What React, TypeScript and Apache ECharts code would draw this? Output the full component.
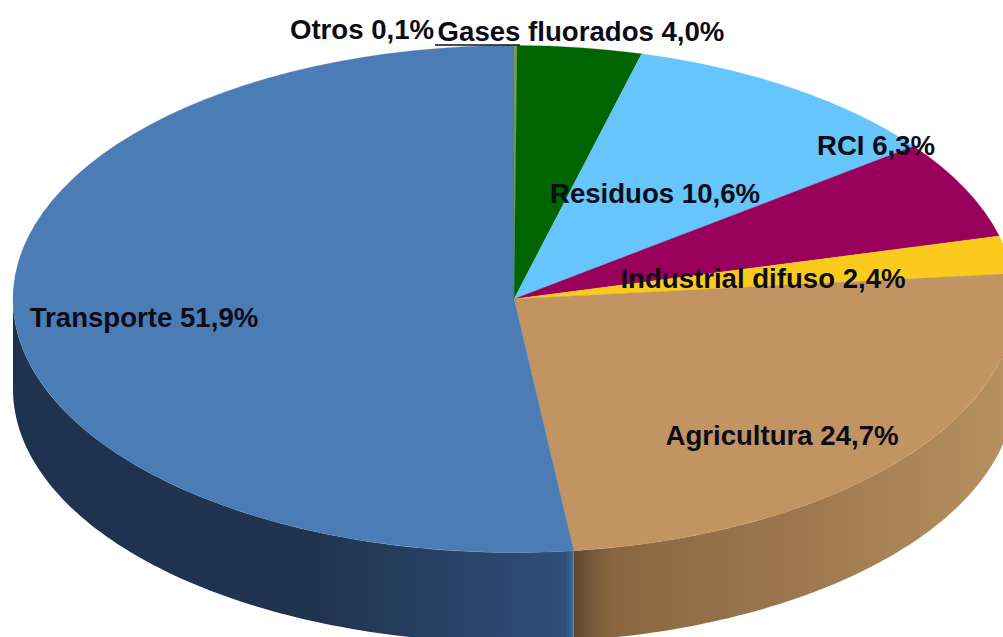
import React, { useEffect, useRef } from "react";
import * as echarts from "echarts";

const categories = ["Otros", "Gases fluorados", "Residuos", "RCI", "Industrial difuso", "Agricultura", "Transporte"];
const shares = [0.1, 4.0, 10.6, 6.3, 2.4, 24.7, 51.9];
const faceColors = ["#7ba03c", "#006400", "#66c5fb", "#99005c", "#facb1c", "#c19461", "#4c7cb6"];

const WIDTH = 1003;
const HEIGHT = 637;
const CX = 514;
const CY = 299;
const RX = 501;
const RY = 253.5;
const DEPTH = 90;
const FONT = 27.6;

// label centres in pixels, by category index
const labelCentres: [number, number][] = [
  [362, 29], [581, 31], [655, 193], [876, 145], [763, 278], [782, 435], [144, 317],
];

const wallStops: Record<number, [number, string][]> = {
  5: [[0, "#5f4629"], [0.04, "#77583a"], [0.09, "#8a6640"], [0.5, "#9c774e"], [1, "#b8925f"]],
  6: [[0, "#1f3350"], [0.55, "#203450"], [0.9, "#2b4a70"], [0.985, "#2d4e76"], [1, "#3a6ba5"]],
};

const total = shares.reduce((a, b) => a + b, 0);
const startDeg = (i: number) => (shares.slice(0, i).reduce((a, b) => a + b, 0) / total) * 360;
const endDeg = (i: number) => startDeg(i + 1);
const rad = (d: number) => (d * Math.PI) / 180;
const rim = (deg: number, dy: number): [number, number] => [
  CX + RX * Math.sin(rad(deg)),
  CY - RY * Math.cos(rad(deg)) + dy,
];

const renderWall = (params: any, api: any) => {
  const i = params.dataIndex;
  api.value(0);
  const from = Math.max(startDeg(i), 90);
  const to = Math.min(endDeg(i), 270);
  if (to <= from) return { type: "group", children: [] };
  const top: [number, number][] = [];
  const bottom: [number, number][] = [];
  const steps = 90;
  for (let s = 0; s <= steps; s++) {
    const d = from + ((to - from) * s) / steps;
    top.push(rim(d, 0));
    bottom.push(rim(d, DEPTH));
  }
  const stops = (wallStops[i] || [[0, faceColors[i]], [1, faceColors[i]]]).map(([offset, color]) => ({ offset, color }));
  return {
    type: "polygon",
    shape: { points: [...top, ...bottom.reverse()] },
    style: { fill: new echarts.graphic.LinearGradient(0, 0, 1, 0, stops) },
  };
};

const renderFace = (params: any, api: any) => {
  const i = params.dataIndex;
  api.value(0);
  return {
    type: "sector",
    x: CX,
    y: CY,
    scaleY: RY / RX,
    shape: {
      cx: 0, cy: 0, r0: 0, r: RX,
      startAngle: rad(startDeg(i) - 90),
      endAngle: rad(endDeg(i) - 90),
      clockwise: true,
    },
    style: { fill: faceColors[i], stroke: faceColors[i], lineWidth: 0.4 },
  };
};

const renderLabel = (params: any, api: any) => {
  const i = params.dataIndex;
  const value = api.value(0) as number;
  const [x, y] = labelCentres[i];
  return {
    type: "text",
    x,
    y,
    style: {
      text: `${categories[i]} ${value.toFixed(1).replace(".", ",")}%`,
      fill: "#0c0c18",
      font: `bold ${FONT}px "Liberation Sans", Arial, sans-serif`,
      align: "center",
      verticalAlign: "middle",
    },
  };
};

export default function App() {
  const ref = useRef<HTMLDivElement>(null);
  useEffect(() => {
    const chart = echarts.init(ref.current!, undefined, { renderer: "svg" });
    const data = shares.map((v) => [v]);
    chart.setOption({
      animation: false,
      backgroundColor: "#ffffff",
      series: [
        { type: "custom", coordinateSystem: "none", renderItem: renderWall, data, z: 1, silent: true },
        { type: "custom", coordinateSystem: "none", renderItem: renderFace, data, z: 2, silent: true },
        { type: "custom", coordinateSystem: "none", renderItem: renderLabel, data, z: 4, silent: true },
      ],
      graphic: [
        {
          type: "line",
          z: 3,
          silent: true,
          shape: { x1: 435, y1: 45, x2: 520, y2: 45 },
          style: { stroke: "#111111", lineWidth: 1.5 },
        },
      ],
    });
    return () => chart.dispose();
  }, []);
  return (
    <div
      ref={ref}
      style={{ position: "fixed", left: 0, top: 0, width: WIDTH, height: HEIGHT }}
    />
  );
}
